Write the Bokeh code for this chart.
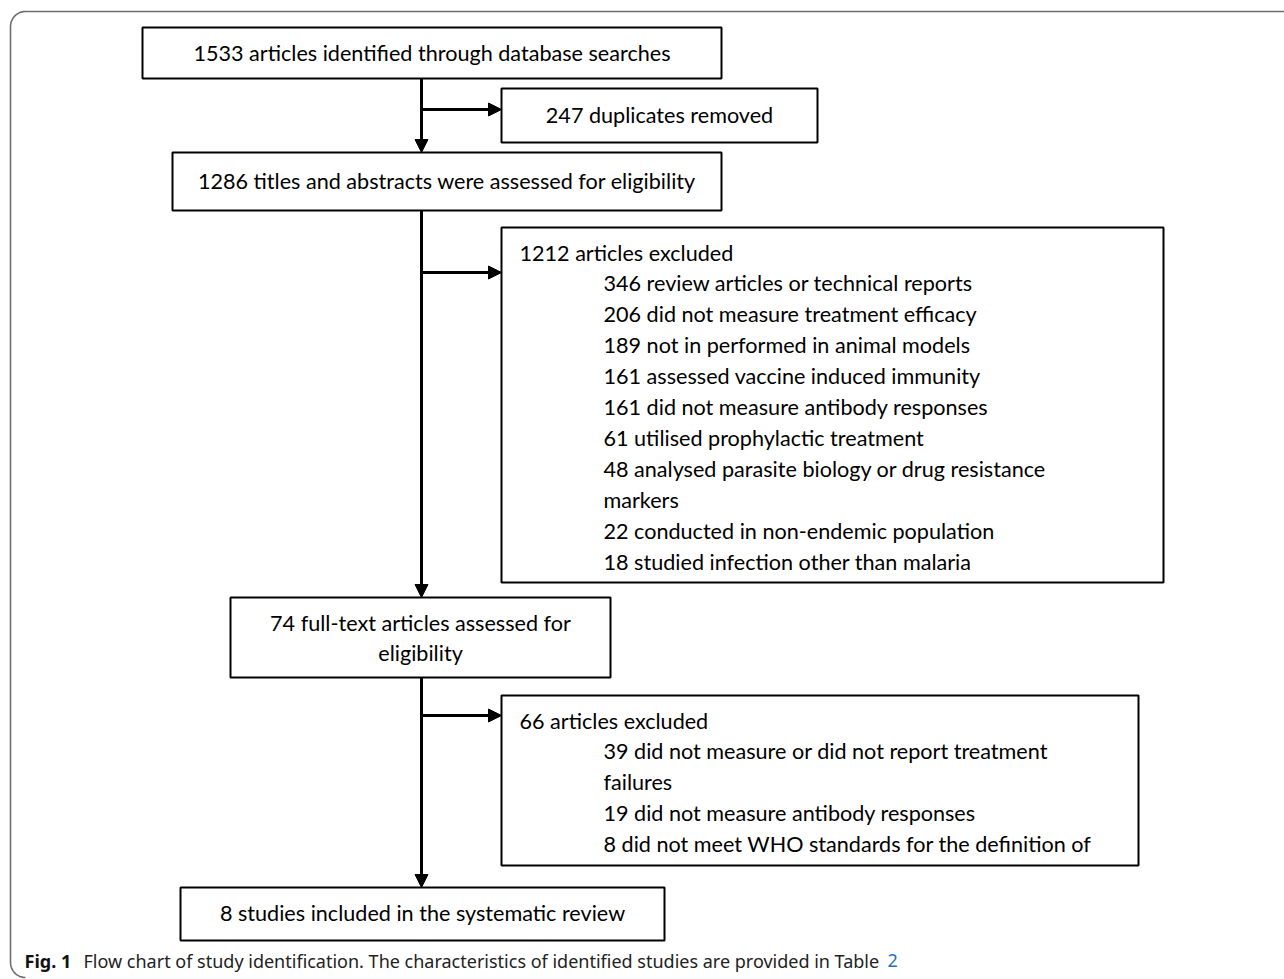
import numpy as np
from bokeh.plotting import figure
from bokeh.models import Range1d, Arrow, NormalHead
from bokeh.core.properties import value
from bokeh.embed import file_html
from bokeh.resources import INLINE

# ---------------- data ----------------
stage_counts = [1533, 247, 1286, 1212, 74, 66, 8]
stage_labels = [
    "articles identified through database searches",
    "duplicates removed",
    "titles and abstracts were assessed for eligibility",
    "articles excluded",
    "full-text articles assessed for\neligibility",
    "articles excluded",
    "studies included in the systematic review",
]
excl1_counts = [346, 206, 189, 161, 161, 61, 48, 22, 18]
excl1_reasons = [
    "review articles or technical reports",
    "did not measure treatment efficacy",
    "not in performed in animal models",
    "assessed vaccine induced immunity",
    "did not measure antibody responses",
    "utilised prophylactic treatment",
    "analysed parasite biology or drug resistance\nmarkers",
    "conducted in non-endemic population",
    "studied infection other than malaria",
]
excl2_counts = [39, 19, 8]
excl2_reasons = [
    "did not measure or did not report treatment\nfailures",
    "did not measure antibody responses",
    "did not meet WHO standards for the definition of",
]
caption_bold = "Fig. 1"
caption_text = "Flow chart of study identification. The characteristics of identified studies are provided in Table"
caption_link = "2"

# ---------------- layout (pixels) ----------------
W, H = 1284, 979
FONT = value("Lato")
FS = "21.6px"
LH = 30.9

box_left = [142, 501, 172, 501, 230, 501, 180]
box_right = [721, 817, 721, 1163, 610, 1138, 664]
box_top = [27, 88, 152, 227, 597, 695, 887]
box_bottom = [78, 142, 210, 582, 677, 865, 940]

p = figure(width=W, height=H, x_range=Range1d(0, W), y_range=Range1d(H, 0),
           output_backend="svg", toolbar_location=None, min_border=0)
p.axis.visible = False
p.grid.visible = False
p.outline_line_color = None

# outer frame with rounded corners
r = 15
t = np.linspace(0, np.pi / 2, 12)
fx = [1300] + list(10 + r - r * np.sin(t)) + list(10 + r - r * np.cos(t))
fy = [11] + list(11 + r - r * np.cos(t)) + list(977 - r + r * np.sin(t))
p.line(fx, fy, line_color="#6e6e6e", line_width=1.6)

# boxes
p.quad(left=box_left, right=box_right, top=box_top, bottom=box_bottom,
       fill_color="white", line_color="black", line_width=2)

# centred box texts
center_y0 = {0: 52, 1: 114, 2: 180, 4: 622, 6: 912}
cx, cy, ct = [], [], []
for i, y0 in center_y0.items():
    lines = f"{stage_counts[i]} {stage_labels[i]}".split("\n")
    for k, ln in enumerate(lines):
        cx.append((box_left[i] + box_right[i]) / 2)
        cy.append(y0 + k * LH)
        ct.append(ln)
p.text(x=cx, y=cy, text=ct, text_font=FONT, text_font_size=FS,
       text_align="center", text_baseline="middle", text_color="black")

# exclusion lists
lx, ly, lt = [], [], []
for i, y0, counts, reasons in [(3, 252, excl1_counts, excl1_reasons),
                               (5, 720, excl2_counts, excl2_reasons)]:
    lx.append(519); ly.append(y0); lt.append(f"{stage_counts[i]} {stage_labels[i]}")
    k = 1
    for c, rsn in zip(counts, reasons):
        for ln in f"{c} {rsn}".split("\n"):
            lx.append(603); ly.append(y0 + k * LH); lt.append(ln)
            k += 1
p.text(x=lx, y=ly, text=lt, text_font=FONT, text_font_size=FS,
       text_align="left", text_baseline="middle", text_color="black")

# arrows
main_x = 421
segs = [(main_x, box_bottom[0], main_x, box_top[2]),
        (main_x, box_bottom[2], main_x, box_top[4]),
        (main_x, box_bottom[4], main_x, box_top[6]),
        (main_x, 109, box_left[1], 109),
        (main_x, 272, box_left[3], 272),
        (main_x, 715, box_left[5], 715)]
for x0, y0, x1, y1 in segs:
    p.add_layout(Arrow(x_start=x0, y_start=y0, x_end=x1, y_end=y1, line_width=3, line_color="black",
                       end=NormalHead(size=13, fill_color="black", line_color="black", line_width=1)))

# caption
p.text(x=[24], y=[960], text=[caption_bold], text_font=value("Noto Sans"), text_font_size="18px",
       text_font_style="bold", text_baseline="middle", text_color="#111111")
p.text(x=[83], y=[960], text=[caption_text], text_font=value("Noto Sans"), text_font_size="18px",
       text_baseline="middle", text_color="#222222")
p.text(x=[887], y=[960], text=[caption_link], text_font=value("Noto Sans"), text_font_size="18px",
       text_baseline="middle", text_color="#2a6ebb")

open("out.html", "w").write(file_html(p, INLINE))
